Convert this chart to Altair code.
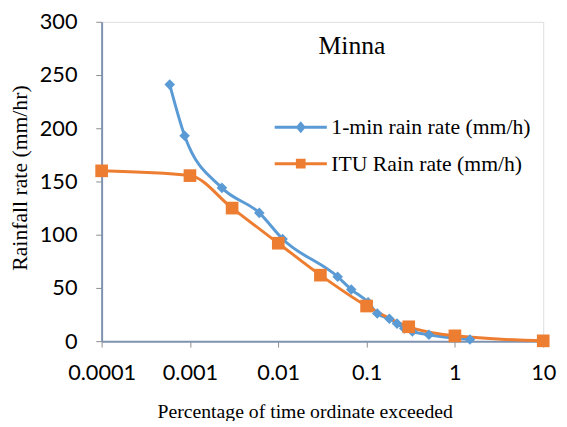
import altair as alt
import pandas as pd

blue_name = "1-min rain rate (mm/h)"
orange_name = "ITU Rain rate (mm/h)"

blue_x = [0.00059, 0.00087, 0.0023, 0.0061, 0.0112, 0.047, 0.067, 0.104, 0.132,
          0.181, 0.221, 0.267, 0.33, 0.508, 1.48]
blue_y = [241, 193, 144, 120.5, 96, 60.5, 48.5, 36.5, 26, 21, 16.5, 12, 9, 6, 1.5]

itu_x = [0.0001, 0.001, 0.003, 0.01, 0.03, 0.1, 0.3, 1, 10]
itu_y = [160, 155.5, 125, 92, 62, 33, 13.5, 5, 0.3]

x_ticks = [0.0001, 0.001, 0.01, 0.1, 1, 10]
y_ticks = [0, 50, 100, 150, 200, 250, 300]

chart_title = ["Minna"]

series_names = [blue_name, orange_name]
colors = ["#5B9BD5", "#ED7D31"]

df = pd.concat([
    pd.DataFrame({"x": blue_x, "y": blue_y, "series": blue_name, "order": range(len(blue_x))}),
    pd.DataFrame({"x": itu_x, "y": itu_y, "series": orange_name, "order": range(len(itu_x))}),
], ignore_index=True)
title_df = pd.DataFrame({"label": chart_title})

# legend glyphs: a line with a marker in the middle (stroked)
blue_path = ("M-5,0H5M-0.6,0L0,-0.7L0.6,0L0,0.7ZM-0.3,0L0,-0.35L0.3,0L0,0.35Z")
orange_path = ("M-5,0H5M-0.65,-0.65H0.65V0.65H-0.65ZM-0.3,-0.3H0.3V0.3H-0.3Z")

legend = alt.Legend(
    title=None, orient="none", legendX=191, legendY=96, direction="vertical",
    labelFont="Liberation Serif", labelFontSize=22, labelColor="black",
    labelLimit=400, labelOffset=20, rowPadding=15, padding=0,
    symbolSize=112, symbolStrokeWidth=3, symbolOpacity=1,
)

color_scale = alt.Scale(domain=series_names, range=colors)

xenc = alt.X("x:Q", scale=alt.Scale(type="log", domain=[0.0001, 10], nice=False),
             axis=alt.Axis(values=x_ticks, format="~g", title="Percentage of time ordinate exceeded",
                           titleFont="Liberation Serif", titleFontSize=20, titleFontWeight="normal",
                           titleColor="black", titleX=206, titleY=77, titleBaseline="alphabetic",
                           titleAlign="center",
                           labelFont="Lato", labelFontSize=22, labelColor="black", labelPadding=16,
                           tickSize=6, tickColor="#8c8c8c", domainColor="#7f93b0", domainWidth=2,
                           grid=False, labelFlush=False, labelOverlap=False))
yenc = alt.Y("y:Q", scale=alt.Scale(domain=[0, 300], nice=False),
             axis=alt.Axis(values=y_ticks, title="Rainfall rate (mm/hr)",
                           titleFont="Liberation Serif", titleFontSize=22, titleFontWeight="normal",
                           titleColor="black", titleX=-76, titleY=158, titleAngle=270,
                           titleBaseline="alphabetic", titleAlign="center",
                           labelFont="Lato", labelFontSize=22, labelColor="black", labelPadding=19,
                           tickSize=6, tickColor="#8c8c8c", domainColor="#7f93b0", domainWidth=2,
                           grid=False))

base = alt.Chart(df)

lines = base.mark_line(strokeWidth=3, interpolate="monotone").encode(
    x=xenc, y=yenc,
    color=alt.Color("series:N", scale=color_scale, legend=None),
    order="order:Q", detail="series:N")

points = base.mark_point(filled=True, opacity=1).encode(
    x=xenc, y=yenc,
    color=alt.Color("series:N", scale=color_scale, legend=None),
    shape=alt.Shape("series:N", scale=alt.Scale(domain=series_names, range=["diamond", "square"]), legend=None),
    size=alt.Size("series:N", scale=alt.Scale(domain=series_names, range=[115, 165]), legend=None),
)

legend_layer = base.mark_point(filled=False, opacity=0, strokeWidth=3).encode(
    x=xenc, y=yenc,
    color=alt.Color("series:N", scale=color_scale, legend=legend),
    shape=alt.Shape("series:N", scale=alt.Scale(domain=series_names, range=[blue_path, orange_path]),
                    legend=legend),
)

title_layer = alt.Chart(title_df).mark_text(
    font="Liberation Serif", fontSize=26, color="black", align="center", baseline="alphabetic"
).encode(text="label:N", x=alt.value(254), y=alt.value(33))

chart = alt.layer(lines, points, legend_layer, title_layer).resolve_scale(
    shape="independent"
).resolve_legend(
    color="independent", shape="independent"
).properties(
    width=448, height=324,
    autosize=alt.AutoSizeParams(type="none"),
    padding={"left": 95, "top": 11, "right": 16, "bottom": 78},
).configure_view(stroke="#4f81bd", strokeWidth=2).configure(background="white")

chart.save("out.html", embed_options={"renderer": "svg", "actions": False})
